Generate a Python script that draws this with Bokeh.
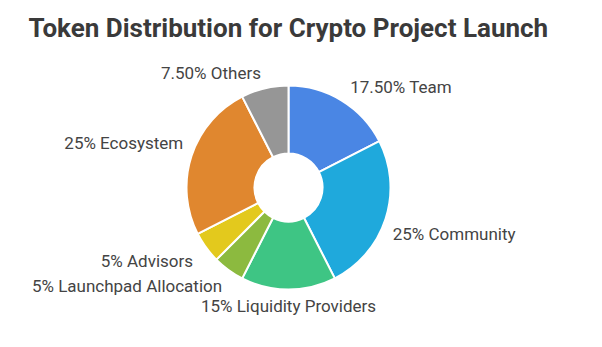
import math
from bokeh.plotting import figure
from bokeh.models import Range1d, ColumnDataSource
from bokeh.core.properties import value
from bokeh.embed import file_html
from bokeh.resources import INLINE

# ---- data ----
categories = ["Team", "Community", "Liquidity Providers", "Launchpad Allocation",
              "Advisors", "Ecosystem", "Others"]
shares = [17.5, 25, 15, 5, 5, 25, 7.5]
share_labels = ["17.50%", "25%", "15%", "5%", "5%", "25%", "7.50%"]
colors = ["#4a86e4", "#1fa9dc", "#3ec584", "#8cba3f", "#e3c91d", "#e0872f", "#969696"]
title_text = "Token Distribution for Crypto Project Launch"

# ---- layout (label nudges in pixels, screen x / y-up) ----
W, H = 602, 347
cx, cy = 288, H - 187
r_out, r_in, r_lab = 102, 34, 118
nudge_x = [0, -8, 0, 3, 0, 7, 0]
nudge_y = [0, -10, 0, -3, -4, 8, 0]

total = sum(shares)
starts, ends, lx, ly, la = [], [], [], [], []
cum = 0.0
for i, s in enumerate(shares):
    a0 = math.pi / 2 - 2 * math.pi * cum / total
    cum += s
    a1 = math.pi / 2 - 2 * math.pi * cum / total
    starts.append(a0)
    ends.append(a1)
    mid = (a0 + a1) / 2
    dx, dy = math.cos(mid), math.sin(mid)
    lx.append(cx + r_lab * dx + nudge_x[i])
    ly.append(cy + r_lab * dy + nudge_y[i])
    if abs(dx) < 0.2:
        la.append("center")
    elif dx > 0:
        la.append("left")
    else:
        la.append("right")

src = ColumnDataSource(dict(
    start=starts, end=ends, color=colors,
    x=lx, y=ly, align=la,
    text=[f"{p} {c}" for p, c in zip(share_labels, categories)],
))

p = figure(width=W, height=H, output_backend="svg", toolbar_location=None,
           x_range=Range1d(0, W), y_range=Range1d(0, H), min_border=0)
p.axis.visible = False
p.grid.visible = False
p.outline_line_color = None
p.background_fill_color = "white"
p.border_fill_color = "white"

p.annular_wedge(x=cx, y=cy, inner_radius=r_in, outer_radius=r_out,
                start_angle="start", end_angle="end", direction="clock",
                fill_color="color", line_color="white", line_width=2, source=src)

p.text(x="x", y="y", text="text", text_align="align", text_baseline="middle",
       text_font=value("Roboto"), text_font_size="17px", text_color="#444444",
       source=src)

p.text(x=[28], y=[H - 27], text=[title_text], text_align="left",
       text_baseline="middle", text_font=value("Roboto"), text_font_style="bold",
       text_font_size="26px", text_color="#3a3a3a")

open("out.html", "w").write(file_html(p, INLINE))
